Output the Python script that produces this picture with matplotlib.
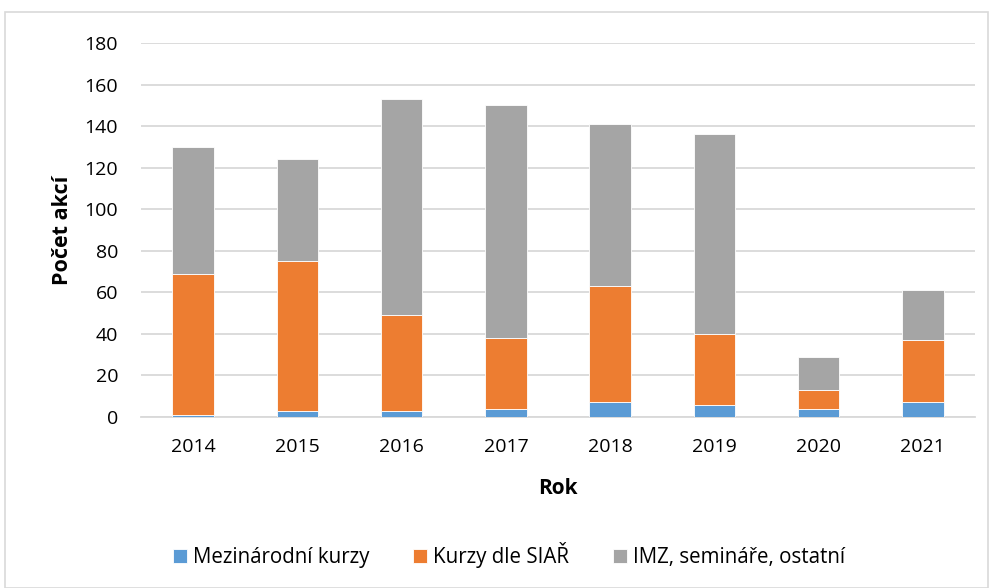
import matplotlib
matplotlib.use("Agg")
import matplotlib.pyplot as plt
from matplotlib.patches import Rectangle
import numpy as np

years = ["2014", "2015", "2016", "2017", "2018", "2019", "2020", "2021"]
mezinarodni = [1, 3, 3, 4, 7, 6, 4, 7]
kurzy_siar = [68, 72, 46, 34, 56, 34, 9, 30]
imz_ostatni = [61, 49, 104, 112, 78, 96, 16, 24]
series_names = ["Mezinárodní kurzy", "Kurzy dle SIAŘ", "IMZ, semináře, ostatní"]
colors = ["#5b9bd5", "#ed7d31", "#a5a5a5"]

plt.rcParams['font.family'] = ['Open Sans', 'DejaVu Sans']

fig = plt.figure(figsize=(9.89, 5.88), dpi=100)
ax = fig.add_axes([141/989, 1 - 417/588, (975-141)/989, (417-43)/588])

x = np.arange(len(years))
bottom = np.zeros(len(years))
for vals, name, c in zip([mezinarodni, kurzy_siar, imz_ostatni], series_names, colors):
    ax.bar(x, vals, width=0.4, bottom=bottom, color=c, label=name,
           edgecolor="white", linewidth=0.6, zorder=3)
    bottom += np.array(vals)

ax.set_ylim(0, 180)
ax.set_xlim(-0.5, len(years) - 0.5)
ax.set_yticks(range(0, 181, 20))
ax.set_xticks(x)
ax.set_xticklabels(years)
ax.yaxis.grid(True, color="#d9d9d9", linewidth=1.3, zorder=0)
ax.set_axisbelow(True)
for s in ["top", "right", "left"]:
    ax.spines[s].set_visible(False)
ax.spines["bottom"].set_color("#d9d9d9")
ax.spines["bottom"].set_linewidth(1.3)
ax.tick_params(axis="both", length=0, labelsize=14, colors="#000000")
ax.tick_params(axis="x", pad=15)
ax.tick_params(axis="y", pad=16.5)

ax.set_xlabel("Rok", fontsize=15, fontweight="bold", labelpad=16)
ax.set_ylabel("Počet akcí", fontsize=15.5, fontweight="bold", labelpad=8)

fig.legend(loc="center", bbox_to_anchor=(509/989, 1 - 555/588), ncol=3, frameon=False,
           fontsize=14.8, handlelength=0.7, handleheight=0.7, columnspacing=2.1,
           handletextpad=0.3)

fig.patches.append(Rectangle((5/989, 0), 983/989, 1 - 12/588, transform=fig.transFigure,
                             fill=False, edgecolor="#d9d9d9", linewidth=1.2))

fig.savefig("out.png", dpi=100)
